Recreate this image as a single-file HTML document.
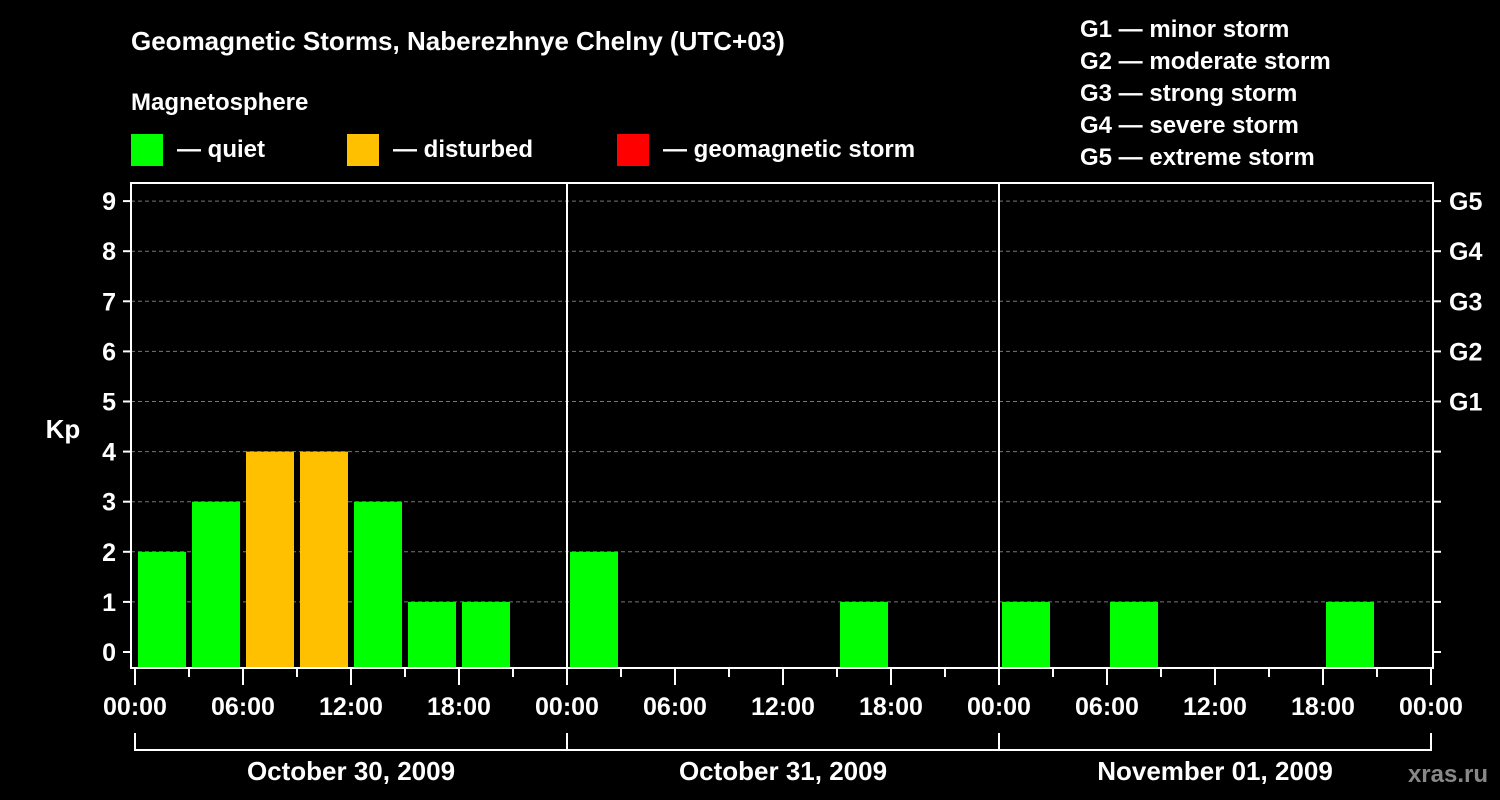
<!DOCTYPE html>
<html><head><meta charset="utf-8"><style>
html,body{margin:0;padding:0;background:#000;}
svg{display:block;font-family:"Liberation Sans",Arial,sans-serif;font-weight:bold;}
</style></head><body>
<svg id="chart" width="1500" height="800" viewBox="0 0 1500 800">
<rect width="1500" height="800" fill="#000"/>
<text x="131" y="50" fill="#fff" font-size="26">Geomagnetic Storms, Naberezhnye Chelny (UTC+03)</text>
<text x="131" y="110" fill="#fff" font-size="24">Magnetosphere</text>
<g><rect x="131" y="134" width="32" height="32" fill="#00ff00"/><text x="177" y="157" fill="#fff" font-size="24">— quiet</text></g>
<g><rect x="347" y="134" width="32" height="32" fill="#ffc000"/><text x="393" y="157" fill="#fff" font-size="24">— disturbed</text></g>
<g><rect x="617" y="134" width="32" height="32" fill="#ff0000"/><text x="663" y="157" fill="#fff" font-size="24">— geomagnetic storm</text></g>
<g fill="#fff" font-size="24">
<text x="1080" y="37">G1 — minor storm</text>
<text x="1080" y="69">G2 — moderate storm</text>
<text x="1080" y="101">G3 — strong storm</text>
<text x="1080" y="133">G4 — severe storm</text>
<text x="1080" y="165">G5 — extreme storm</text>
</g>
<g id="grid"></g><g id="bars"></g><g id="axes"></g>
<text x="63" y="438" fill="#fff" font-size="26" text-anchor="middle">Kp</text>
<text x="1488" y="782" fill="#888" font-size="24" text-anchor="end">xras.ru</text>
</svg>
<script>
const days = ["October 30, 2009","October 31, 2009","November 01, 2009"];
const kp = [2,3,4,4,3,1,1,0, 2,0,0,0,0,1,0,0, 1,0,1,0,0,0,1,0];
const yTicks = [0,1,2,3,4,5,6,7,8,9];
const gLabels = ["G1","G2","G3","G4","G5"];
const xLabels = ["00:00","06:00","12:00","18:00"];
const NS="http://www.w3.org/2000/svg";
const X0=135, SLOT=54, TOP=183, BOT=668, LEFT=131, RIGHT=1433;
const xS = i => X0 + i*SLOT;
const yS = v => 652 - v*50.1;
function mk(t,a,p){const e=document.createElementNS(NS,t);for(const k in a)e.setAttribute(k,a[k]);p.appendChild(e);return e;}
const grid=document.getElementById('grid'), bars=document.getElementById('bars'), axes=document.getElementById('axes');
yTicks.forEach(v=>{
 if(v>0){const l=mk('line',{x1:LEFT,x2:RIGHT,y1:yS(v),y2:yS(v),stroke:'#777','stroke-dasharray':'4,3','stroke-width':1},grid);
 
 }
 mk('line',{x1:123,x2:LEFT,y1:yS(v),y2:yS(v),stroke:'#fff','stroke-width':2},axes);
 mk('line',{x1:RIGHT,x2:1441,y1:yS(v),y2:yS(v),stroke:'#fff','stroke-width':2},axes);
 const t=mk('text',{x:116,y:yS(v)+9,fill:'#fff','font-size':25,'text-anchor':'end'},axes);t.textContent=v;
 
 
});
gLabels.forEach((g,i)=>{const t=mk('text',{x:1449,y:yS(i+5)+9,fill:'#fff','font-size':25},axes);t.textContent=g;
 
 });
kp.forEach((v,i)=>{
 if(v<=0)return;
 const r=mk('rect',{x:xS(i)+3,y:yS(v),width:48,height:BOT-yS(v),fill:v>=5?'#ff0000':(v>=4?'#ffc000':'#00ff00')},bars);
 
 
});
mk('rect',{x:LEFT,y:TOP,width:RIGHT-LEFT,height:BOT-TOP,fill:'none',stroke:'#fff','stroke-width':2},axes);
for(let d=1;d<days.length;d++) mk('line',{x1:xS(d*8),x2:xS(d*8),y1:TOP,y2:BOT,stroke:'#fff','stroke-width':2},axes);
for(let i=0;i<=24;i++){
 const major=i%2===0;
 mk('line',{x1:xS(i),x2:xS(i),y1:BOT,y2:BOT+(major?17:9),stroke:'#fff','stroke-width':2},axes);
 if(major){const t=mk('text',{x:xS(i),y:715,fill:'#fff','font-size':25,'text-anchor':'middle'},axes);
 t.textContent=i===24?"00:00":xLabels[(i/2)%4];
 
 }
}
mk('path',{d:`M${xS(0)},733V750H${xS(24)}V733`,fill:'none',stroke:'#fff','stroke-width':2},axes);
days.forEach((d,k)=>{
 if(k>0)mk('line',{x1:xS(k*8),x2:xS(k*8),y1:733,y2:750,stroke:'#fff','stroke-width':2},axes);
 const t=mk('text',{x:xS(k*8)+216,y:780,fill:'#fff','font-size':26,'text-anchor':'middle'},axes);t.textContent=d;
 
 
});
</script>
</body></html>
